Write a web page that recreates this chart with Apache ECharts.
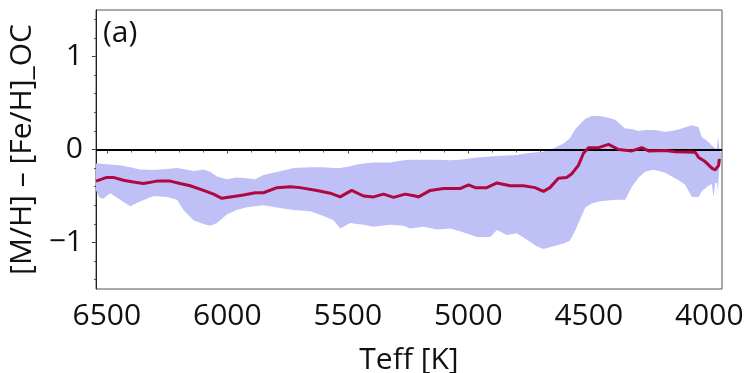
<!DOCTYPE html>
<html>
<head>
<meta charset="utf-8">
<script src="https://cdn.jsdelivr.net/npm/echarts@6/dist/echarts.min.js"></script>
<style>
  html, body { margin: 0; padding: 0; background: #fff; }
  #chart { width: 747px; height: 373px; }
</style>
</head>
<body>
<div id="chart"></div>
<script>
// Effective temperature grid of the scatter band [K]
const teffBand = [6545, 6530, 6515, 6486, 6445, 6403, 6362, 6306, 6251, 6209,
  6182, 6140, 6099, 6071, 6043, 6002, 5961, 5919, 5884, 5850,
  5781, 5725, 5656, 5601, 5559, 5532, 5490, 5462, 5435, 5393,
  5324, 5269, 5241, 5186, 5130, 5075, 5034, 4964, 4909, 4881,
  4840, 4799, 4757, 4716, 4688, 4647, 4605, 4578, 4556, 4514,
  4487, 4459, 4431, 4390, 4349, 4321, 4293, 4266, 4238, 4224,
  4183, 4155, 4127, 4100, 4072, 4044, 4031, 4017, 4003, 3989,
  3982, 3975, 3968, 3964, 3958, 3950];
// Upper edge of the band
const bandUpper = [-0.15, -0.15, -0.155, -0.16, -0.17, -0.19, -0.215, -0.22, -0.21, -0.20,
  -0.21, -0.23, -0.215, -0.24, -0.29, -0.32, -0.30, -0.31, -0.32, -0.275,
  -0.235, -0.20, -0.19, -0.19, -0.20, -0.20, -0.18, -0.16, -0.15, -0.14,
  -0.14, -0.115, -0.11, -0.11, -0.11, -0.115, -0.11, -0.085, -0.075, -0.07,
  -0.065, -0.06, -0.04, -0.03, -0.025, 0.01, 0.065, 0.12, 0.22, 0.33,
  0.36, 0.36, 0.35, 0.32, 0.225, 0.22, 0.20, 0.21, 0.21, 0.21,
  0.19, 0.20, 0.215, 0.24, 0.26, 0.24, 0.135, 0.11, 0.08, 0.04,
  0.03, 0.01, 0.01, 0.13, 0.02, -0.05];
// Lower edge of the band
const bandLower = [-0.44, -0.52, -0.53, -0.47, -0.54, -0.61, -0.56, -0.50, -0.51, -0.54,
  -0.65, -0.76, -0.80, -0.82, -0.79, -0.70, -0.65, -0.62, -0.61, -0.60,
  -0.63, -0.65, -0.665, -0.715, -0.76, -0.85, -0.79, -0.80, -0.81, -0.83,
  -0.81, -0.82, -0.85, -0.83, -0.86, -0.85, -0.88, -0.94, -0.94, -0.865,
  -0.92, -0.90, -0.97, -1.04, -1.07, -1.04, -1.01, -0.98, -0.87, -0.62,
  -0.58, -0.56, -0.55, -0.54, -0.54, -0.40, -0.30, -0.24, -0.22, -0.22,
  -0.25, -0.29, -0.33, -0.38, -0.51, -0.51, -0.45, -0.42, -0.39, -0.37,
  -0.51, -0.36, -0.36, -0.45, -0.20, -0.12];

// Running median curve
const teffMed = [6545, 6500, 6473, 6431, 6390, 6348, 6292, 6237, 6196, 6154,
  6099, 6057, 6023, 5988, 5933, 5884, 5850, 5794, 5739, 5698,
  5628, 5573, 5532, 5484, 5435, 5393, 5352, 5310, 5262, 5220,
  5206, 5158, 5103, 5034, 4999, 4971, 4923, 4881, 4826, 4771,
  4723, 4688, 4661, 4626, 4592, 4570, 4543, 4522, 4501, 4459,
  4418, 4376, 4321, 4280, 4252, 4183, 4141, 4058, 4044, 4017,
  3989, 3975, 3961, 3958];
const medianDiff = [-0.34, -0.30, -0.30, -0.33, -0.35, -0.365, -0.34, -0.34, -0.365, -0.39,
  -0.44, -0.48, -0.525, -0.51, -0.49, -0.465, -0.465, -0.41, -0.40, -0.41,
  -0.44, -0.47, -0.51, -0.44, -0.50, -0.51, -0.48, -0.515, -0.48, -0.50,
  -0.51, -0.44, -0.42, -0.42, -0.38, -0.41, -0.41, -0.36, -0.39, -0.39,
  -0.41, -0.45, -0.41, -0.31, -0.30, -0.26, -0.17, -0.04, 0.02, 0.02,
  0.055, 0.0, -0.015, 0.02, -0.015, -0.01, -0.025, -0.03, -0.085, -0.13,
  -0.20, -0.22, -0.17, -0.10];

// Axis ticks
const xMajorTicks = [6500, 6000, 5500, 5000, 4500, 4000];
const xMinorTicks = [6500, 6400, 6300, 6200, 6100, 6000, 5900, 5800, 5700, 5600, 5500,
  5400, 5300, 5200, 5100, 5000, 4900, 4800, 4700, 4600, 4500, 4400, 4300, 4200, 4100, 4000];
const yMajorTicks = [-1, 0, 1];
const yMinorTicks = [-1.4, -1.2, -1, -0.8, -0.6, -0.4, -0.2, 0, 0.2, 0.4, 0.6, 0.8, 1, 1.2, 1.4];

const FONT = 'Open Sans';
const xRange = { min: 3947, max: 6545 };
const yRange = { min: -1.5, max: 1.5 };

const medData = teffMed.map((t, i) => [t, medianDiff[i]]);

// The band is one closed polygon: upper edge left to right, lower edge back
function renderBand(params, api) {
  const pts = [];
  for (let i = 0; i < teffBand.length; i++) pts.push(api.coord([teffBand[i], bandUpper[i]]));
  for (let i = teffBand.length - 1; i >= 0; i--) pts.push(api.coord([teffBand[i], bandLower[i]]));
  return {
    type: 'polygon',
    shape: { points: pts },
    style: { fill: '#bfc0f6', stroke: null }
  };
}

const chart = echarts.init(document.getElementById('chart'), null, { renderer: 'canvas' });

chart.setOption({
  animation: false,
  backgroundColor: '#fff',
  grid: {
    left: 96, right: 25, top: 10, bottom: 84,
    outerBoundsMode: 'none', containLabel: false,
    show: true, borderColor: '#555', borderWidth: 1, backgroundColor: 'transparent'
  },
  xAxis: [{
    type: 'value', inverse: true, min: xRange.min, max: xRange.max,
    name: 'Teff [K]', nameLocation: 'middle', nameGap: 56,
    nameTextStyle: { fontFamily: FONT, fontSize: 30, color: '#111' },
    axisLine: { show: true, lineStyle: { color: '#555', width: 1 } },
    axisTick: { show: true, length: 4, customValues: xMajorTicks, lineStyle: { color: '#333' } },
    axisLabel: { customValues: xMajorTicks, margin: 12, fontFamily: FONT, fontSize: 30, color: '#111',
      formatter: v => String(v) },
    splitLine: { show: false }
  }, {
    type: 'value', inverse: true, min: xRange.min, max: xRange.max, position: 'bottom',
    axisLine: { show: false },
    axisTick: { show: true, length: 3, customValues: xMinorTicks, lineStyle: { color: '#555' } },
    axisLabel: { show: false },
    splitLine: { show: false }
  }],
  yAxis: [{
    type: 'value', min: yRange.min, max: yRange.max,
    name: '[M/H] \u2013 [Fe/H]_OC', nameLocation: 'middle', nameGap: 54,
    nameTextStyle: { fontFamily: FONT, fontSize: 30, color: '#111' },
    axisLine: { show: true, lineStyle: { color: '#222', width: 1 } },
    axisTick: { show: true, length: 4, customValues: yMajorTicks, lineStyle: { color: '#333' } },
    axisLabel: { customValues: yMajorTicks, margin: 13, fontFamily: FONT, fontSize: 30, color: '#111',
      formatter: v => (v < 0 ? '\u2212' + Math.abs(v) : String(v)) },
    splitLine: { show: false }
  }, {
    type: 'value', min: yRange.min, max: yRange.max, position: 'left',
    axisLine: { show: false },
    axisTick: { show: true, length: 2, customValues: yMinorTicks, lineStyle: { color: '#555' } },
    axisLabel: { show: false },
    splitLine: { show: false }
  }],
  graphic: [{
    type: 'text', left: 103, top: 18, z: 10,
    style: { text: '(a)', fontFamily: FONT, fontSize: 30, fill: '#111' }
  }],
  series: [{
    name: 'band', type: 'custom', renderItem: renderBand, silent: true, z: 1,
    data: [[teffBand[0], bandLower[0]]],
    encode: { x: 0, y: 1 },
    clip: true
  }, {
    name: 'zero', type: 'line', data: [], z: 3,
    markLine: {
      silent: true, symbol: 'none', label: { show: false }, animation: false,
      lineStyle: { color: '#000', width: 2, type: 'solid' },
      data: [{ yAxis: 0 }]
    }
  }, {
    name: 'median', type: 'line', data: medData, symbol: 'none', z: 6,
    lineStyle: { color: '#b0073f', width: 3 }
  }]
});
</script>
</body>
</html>
